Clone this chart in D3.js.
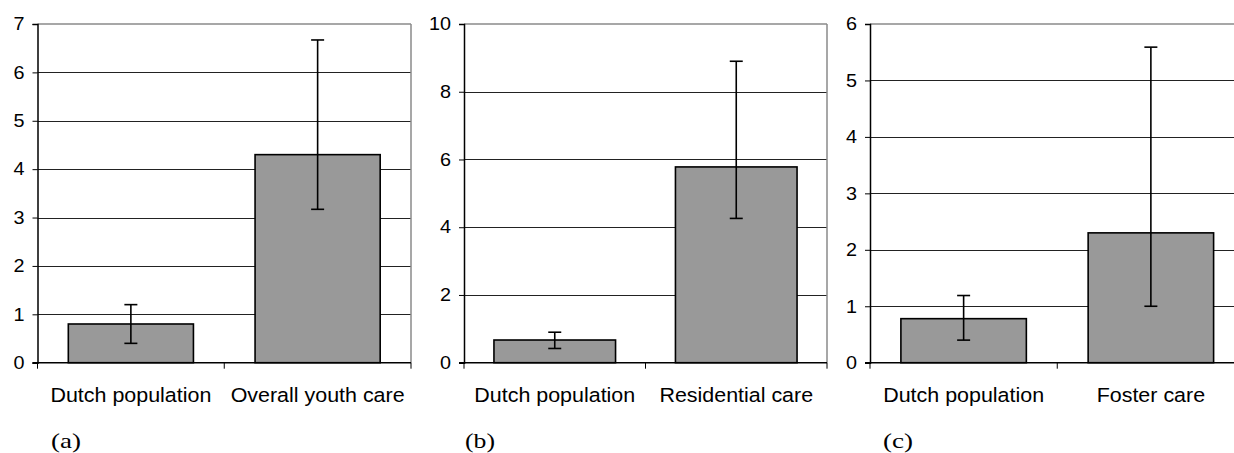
<!DOCTYPE html>
<html>
<head>
<meta charset="utf-8">
<script src="https://cdn.jsdelivr.net/npm/d3@7"></script>
<style>
html,body{margin:0;padding:0;background:#fff;}
svg{display:block;}
</style>
</head>
<body>
<svg id="chart" width="1234" height="453"></svg>
<script>
// Data
const categoriesA = ["Dutch population", "Overall youth care"];
const valuesA = [0.8, 4.3];
const lowA = [0.4, 3.17];
const highA = [1.2, 6.67];
const ticksA = [0, 1, 2, 3, 4, 5, 6, 7];

const categoriesB = ["Dutch population", "Residential care"];
const valuesB = [0.67, 5.78];
const lowB = [0.42, 4.26];
const highB = [0.9, 8.9];
const ticksB = [0, 2, 4, 6, 8, 10];

const categoriesC = ["Dutch population", "Foster care"];
const valuesC = [0.78, 2.3];
const lowC = [0.4, 1.0];
const highC = [1.19, 5.59];
const ticksC = [0, 1, 2, 3, 4, 5, 6];

const panelLabels = ["(a)", "(b)", "(c)"];

const panels = [
  {cats: categoriesA, vals: valuesA, lo: lowA, hi: highA, ticks: ticksA, label: panelLabels[0], x0: 37.5, x1: 411, labelX: 51},
  {cats: categoriesB, vals: valuesB, lo: lowB, hi: highB, ticks: ticksB, label: panelLabels[1], x0: 464, x1: 827, labelX: 465},
  {cats: categoriesC, vals: valuesC, lo: lowC, hi: highC, ticks: ticksC, label: panelLabels[2], x0: 870, x1: 1244.5, labelX: 883}
];

const svg = d3.select("#chart");
const plotTop = 24, plotBottom = 362.7;
const SX = 1.1; // horizontal stretch of the text in the original

panels.forEach(p => {
  const g = svg.append("g");
  const y = d3.scaleLinear().domain([0, d3.max(p.ticks)]).range([plotBottom, plotTop]);
  const x = d3.scaleBand().domain(p.cats).range([p.x0, p.x1]).paddingInner(0.33).paddingOuter(0.165);
  const xb = d3.scaleBand().domain(p.cats).range([p.x0, p.x1]);

  // gridlines
  g.selectAll("line.grid").data(p.ticks.filter(t => t > 0 && t < d3.max(p.ticks))).join("line")
    .attr("x1", p.x0).attr("x2", p.x1)
    .attr("y1", d => Math.round(y(d)) + 0.5).attr("y2", d => Math.round(y(d)) + 0.5)
    .attr("stroke", "#222").attr("stroke-width", 1);

  // top & right border (gray)
  g.append("line").attr("x1", p.x0).attr("x2", p.x1)
    .attr("y1", plotTop).attr("y2", plotTop).attr("stroke", "#8a8a8a").attr("stroke-width", 1.5);
  g.append("line").attr("x1", p.x1).attr("x2", p.x1)
    .attr("y1", plotTop).attr("y2", plotBottom).attr("stroke", "#8a8a8a").attr("stroke-width", 1.5);

  // bars
  g.selectAll("rect.bar").data(p.vals).join("rect")
    .attr("x", (d, i) => x(p.cats[i]))
    .attr("width", x.bandwidth())
    .attr("y", d => y(d))
    .attr("height", d => y(0) - y(d))
    .attr("fill", "#999999")
    .attr("stroke", "#000").attr("stroke-width", 1.6);

  // error bars
  p.vals.forEach((v, i) => {
    const cx = x(p.cats[i]) + x.bandwidth() / 2;
    g.append("line").attr("x1", cx).attr("x2", cx).attr("y1", y(p.hi[i])).attr("y2", y(p.lo[i]))
      .attr("stroke", "#000").attr("stroke-width", 1.6);
    [p.hi[i], p.lo[i]].forEach(e => {
      g.append("line").attr("x1", cx - 6.5).attr("x2", cx + 6.5).attr("y1", y(e)).attr("y2", y(e))
        .attr("stroke", "#000").attr("stroke-width", 1.6);
    });
  });

  // y axis
  const yAxis = d3.axisLeft(y).tickValues(p.ticks).tickSize(5).tickPadding(8).tickFormat(d3.format("d"));
  const ya = g.append("g").attr("transform", `translate(${p.x0},0)`).call(yAxis);
  ya.select(".domain").attr("stroke", "#000").attr("stroke-width", 1.5);
  ya.selectAll(".tick line").attr("stroke", "#000");
  ya.selectAll("text")
    .attr("font-family", "Liberation Sans, Arial, sans-serif").attr("font-size", 18).attr("fill", "#000")
    .attr("x", -13 / SX)
    .attr("transform", `scale(${SX},1)`);

  // x axis baseline
  g.append("line").attr("x1", p.x0 - 5).attr("x2", p.x1).attr("y1", plotBottom).attr("y2", plotBottom)
    .attr("stroke", "#000").attr("stroke-width", 1.5);
  // x ticks at band boundaries
  const bounds = [p.x0, xb(p.cats[1]), p.x1];
  g.selectAll("line.xt").data(bounds).join("line")
    .attr("x1", d => d).attr("x2", d => d).attr("y1", plotBottom).attr("y2", plotBottom + 6)
    .attr("stroke", "#000").attr("stroke-width", 1);

  // category labels
  g.selectAll("text.cat").data(p.cats).join("text")
    .attr("transform", d => `translate(${xb(d) + xb.bandwidth() / 2},402) scale(${SX},1)`)
    .attr("text-anchor", "middle")
    .attr("font-family", "Liberation Sans, Arial, sans-serif")
    .attr("font-size", 19.5)
    .attr("fill", "#000")
    .text(d => d);

  // panel label
  g.append("text").attr("x", p.labelX).attr("y", 448)
    .attr("font-family", "Liberation Serif, Times New Roman, serif")
    .attr("font-size", 22).attr("fill", "#000")
    .attr("textLength", 30).attr("lengthAdjust", "spacingAndGlyphs")
    .text(p.label);
});
</script>
</body>
</html>
